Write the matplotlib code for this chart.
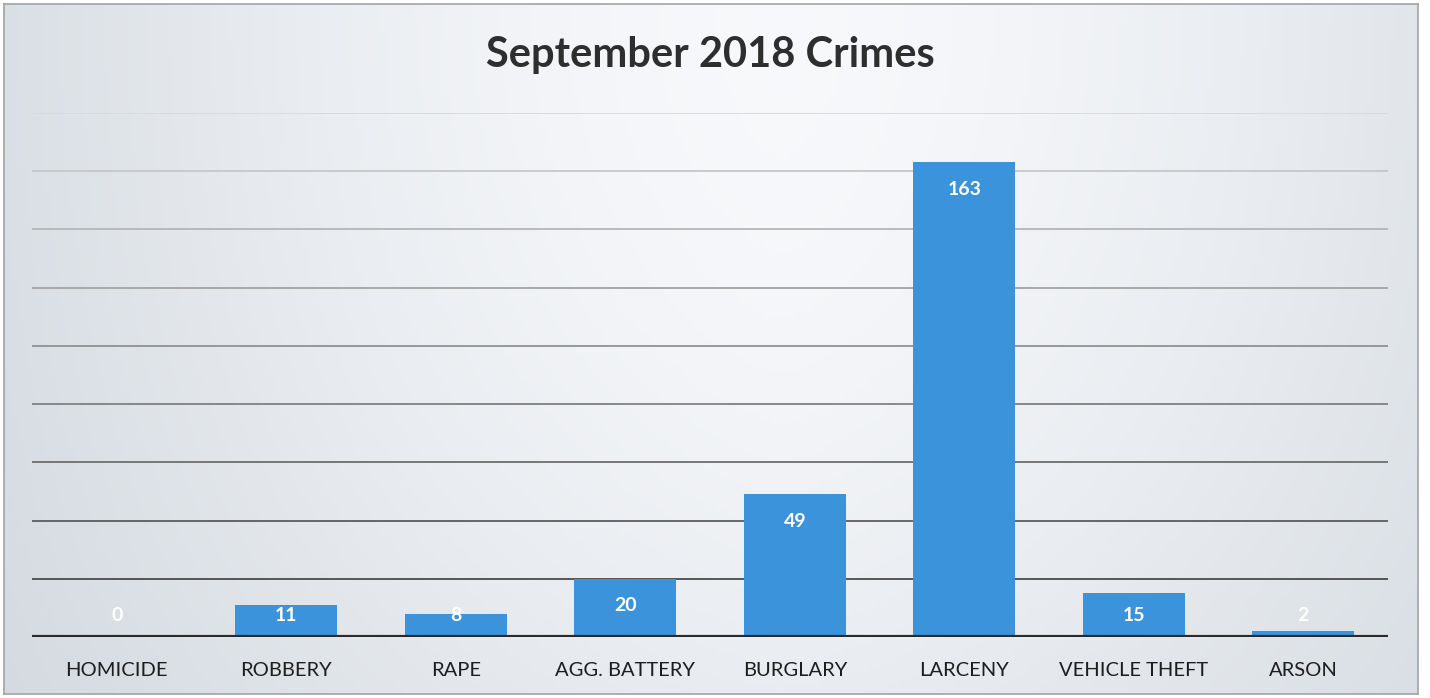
import matplotlib.pyplot as plt
import numpy as np

categories = ['HOMICIDE', 'ROBBERY', 'RAPE', 'AGG. BATTERY', 'BURGLARY',
              'LARCENY', 'VEHICLE THEFT', 'ARSON']
counts = [0, 11, 8, 20, 49, 163, 15, 2]
y_ticks = list(range(0, 181, 20))

plt.rcParams['font.family'] = ['Lato', 'DejaVu Sans']

fig = plt.figure(figsize=(14.3, 6.98), dpi=100)
fig.patch.set_facecolor('white')

# scanned page background: light grey, brighter in the middle
bg = fig.add_axes([4 / 1430, 4 / 698, 1414 / 1430, 690 / 698])
xs = np.linspace(0, 1, 300)
ys = np.linspace(0, 1, 150)
gx = 1 - 0.6 * (np.abs(xs - 0.55) / 0.55) ** 1.5
gy = 1 - 0.3 * ys ** 2
shade = gy[:, None] * gx[None, :]
lo = np.array([0.78, 0.81, 0.84])
hi = np.array([0.97, 0.975, 0.985])
img = lo + (hi - lo) * shade[..., None]
bg.imshow(img, aspect='auto', extent=[0, 1, 0, 1], origin='upper')
bg.set_xticks([])
bg.set_yticks([])
for s in bg.spines.values():
    s.set_color('#a0a4a8')
    s.set_linewidth(1.2)

ax = fig.add_axes([32 / 1430, 61 / 698, 1356 / 1430, 524 / 698])
ax.patch.set_alpha(0)
x = np.arange(len(categories))

# gridlines get darker towards the bottom of the page
greys = np.linspace(0.22, 0.85, len(y_ticks))
for t, g in zip(y_ticks[1:], greys[1:]):
    ax.axhline(t, color=(g, g, g), lw=1.3, zorder=1)
ax.axhline(0, color='#2a2a2a', lw=3, zorder=3)

bars = ax.bar(x, counts, width=0.6, color='#3a93db', zorder=2)

for xi, v in zip(x, counts):
    ax.text(xi, max(v - 9.3, 7.3), str(v), ha='center', va='center',
            color='white', fontsize=14, fontweight='bold', zorder=4)

ax.set_xlim(-0.5, len(categories) - 0.5)
ax.set_ylim(0, 180)
ax.set_yticks([])
ax.set_xticks(x)
ax.set_xticklabels(categories, fontsize=14.5, color='#1e1e1e')
ax.tick_params(axis='x', length=0, pad=18)
for s in ax.spines.values():
    s.set_visible(False)

fig.text(710 / 1430, 1 - 55 / 698, 'September 2018 Crimes', ha='center',
         va='center', fontsize=30, fontweight='bold', color='#2e2e2e')

fig.savefig('out.png', dpi=100, facecolor=fig.get_facecolor())
